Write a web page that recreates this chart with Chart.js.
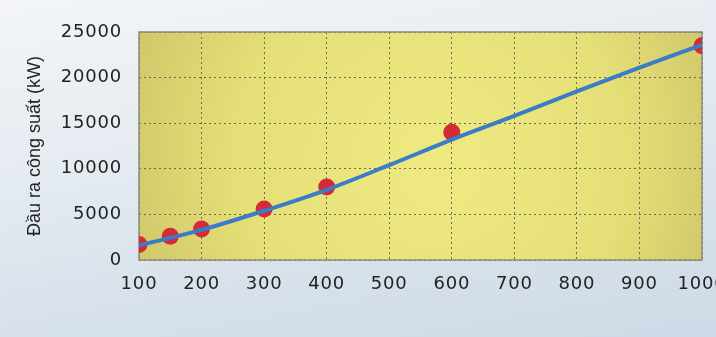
<!DOCTYPE html>
<html>
<head>
<meta charset="utf-8">
<script src="https://cdn.jsdelivr.net/npm/chart.js@4"></script>
<style>
  html, body { margin: 0; padding: 0; overflow: hidden; }
  body {
    width: 716px; height: 337px;
    background: linear-gradient(170deg, #f3f5f7 0%, #e6ecf2 35%, #d6e0ea 75%, #cddae7 100%);
  }
  #wrap { position: relative; width: 716px; height: 337px; }
</style>
</head>
<body>
<div id="wrap"><canvas id="chart" width="716" height="337"></canvas></div>
<script>
// measured points (red dots)
const pointX = [100, 150, 200, 300, 400, 600, 1000];
const pointY = [1700, 2600, 3400, 5600, 8000, 14000, 23500];

// fitted curve (blue line)
const lineX = [100, 200, 300, 400, 500, 600, 700, 800, 900, 1000];
const lineY = [1600, 3300, 5400, 7700, 10400, 13200, 15800, 18500, 21100, 23600];

const yTitle = 'Đầu ra công suất (kW)';

const tickFont = { family: 'DejaVu Sans', size: 18 };

// axis title without the wide tick spacing
const origDrawTitle = Chart.Scale.prototype.drawTitle;
Chart.Scale.prototype.drawTitle = function () {
  const ls = this.ctx.letterSpacing;
  this.ctx.letterSpacing = '0px';
  origDrawTitle.call(this);
  this.ctx.letterSpacing = ls;
};

const plotBg = {
  id: 'plotBg',
  beforeDraw(chart) {
    const { ctx, chartArea: a } = chart;
    ctx.save();
    const cx = (a.left + a.right) / 2, cy = (a.top + a.bottom) / 2;
    const g = ctx.createRadialGradient(cx + 20, cy + 20, 30, cx, cy, 360);
    g.addColorStop(0, '#ede880');
    g.addColorStop(0.5, '#e5df77');
    g.addColorStop(1, '#c6bd63');
    ctx.fillStyle = g;
    ctx.fillRect(a.left, a.top, a.right - a.left, a.bottom - a.top);
    ctx.restore();
    ctx.letterSpacing = '0.8px';
  },
  beforeDatasetsDraw(chart) {
    const { ctx, chartArea: a } = chart;
    ctx.save();
    ctx.strokeStyle = '#8c8c7c';
    ctx.lineWidth = 1.5;
    ctx.strokeRect(a.left, a.top, a.right - a.left, a.bottom - a.top);
    ctx.restore();
  }
};

new Chart(document.getElementById('chart'), {
  type: 'scatter',
  data: {
    datasets: [
      {
        type: 'line',
        data: lineX.map((x, i) => ({ x: x, y: lineY[i] })),
        borderColor: '#3a7cc6',
        borderWidth: 4,
        pointRadius: 0,
        cubicInterpolationMode: 'monotone',
        fill: false,
        order: 0
      },
      {
        data: pointX.map((x, i) => ({ x: x, y: pointY[i] })),
        backgroundColor: '#d62a36',
        borderWidth: 0,
        pointRadius: 8.5,
        order: 1
      }
    ]
  },
  plugins: [plotBg],
  options: {
    responsive: false,
    animation: false,
    events: [],
    layout: { padding: { top: 32, right: 14, left: 0, bottom: 0 } },
    plugins: { legend: { display: false }, tooltip: { enabled: false } },
    scales: {
      x: {
        type: 'linear',
        min: 100,
        max: 1000,
        ticks: { stepSize: 100, color: '#222', font: tickFont, padding: 14, maxRotation: 0, autoSkip: false,
                 callback: v => String(v) },
        grid: { color: '#6a6a55', lineWidth: 1, drawTicks: false },
        border: { display: false, dash: [2, 3] },
        afterFit(s) { s.height = 77; s.paddingRight = 0; s.paddingLeft = 0; }
      },
      y: {
        min: 0,
        max: 25000,
        ticks: { stepSize: 5000, color: '#222', font: tickFont, padding: 17, callback: v => String(v) },
        grid: { color: '#6a6a55', lineWidth: 1, drawTicks: false },
        border: { display: false, dash: [2, 3] },
        title: {
          display: true,
          text: yTitle,
          color: '#222',
          font: { family: 'Liberation Sans', size: 18 },
          padding: { top: 24, bottom: 0 }
        },
        afterFit(s) { s.width = 139; }
      }
    }
  }
});
</script>
</body>
</html>
